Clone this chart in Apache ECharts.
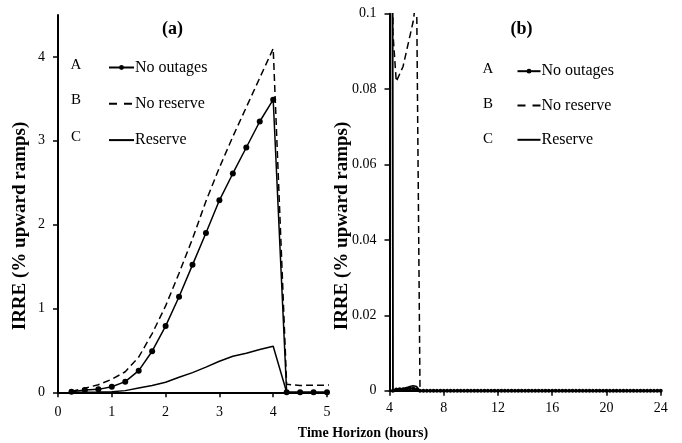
<!DOCTYPE html>
<html><head><meta charset="utf-8">
<script src="https://cdn.jsdelivr.net/npm/echarts@6/dist/echarts.min.js"></script>
<style>html,body{margin:0;padding:0;background:#fff}#c{width:682px;height:443px}</style>
</head><body><div id="c"></div>
<script>
// Time steps (hours)
const hours = [
  0.25,0.5,0.75,1,1.25,1.5,1.75,2,2.25,2.5,2.75,3,3.25,3.5,3.75,4,
  4.25,4.5,4.75,5,5.25,5.5,5.75,6,6.25,
  6.5,6.75,7,7.25,7.5,7.75,8,8.25,8.5,8.75,
  9,9.25,9.5,9.75,10,10.25,10.5,10.75,11,11.25,
  11.5,11.75,12,12.25,12.5,12.75,13,13.25,13.5,13.75,
  14,14.25,14.5,14.75,15,15.25,15.5,15.75,16,16.25,
  16.5,16.75,17,17.25,17.5,17.75,18,18.25,18.5,18.75,
  19,19.25,19.5,19.75,20,20.25,20.5,20.75,21,21.25,
  21.5,21.75,22,22.25,22.5,22.75,23,23.25,23.5,23.75,
  24
];
// A: No outages
const noOutages = [
  0.007,0.027,0.035,0.067,0.127,0.258,0.49,0.79,1.14,1.52,1.90,2.29,2.61,2.92,3.23,3.49,
  0,0.0003,0.0004,0.0004,0.0005,0.0006,0.0006,0.0004,0,
  0,0,0,0,0,0,0,0,0,0,
  0,0,0,0,0,0,0,0,0,0,
  0,0,0,0,0,0,0,0,0,0,
  0,0,0,0,0,0,0,0,0,0,
  0,0,0,0,0,0,0,0,0,0,
  0,0,0,0,0,0,0,0,0,0,
  0,0,0,0,0,0,0,0,0,0,
  0
];
// B: No reserve
const noReserve = [
  0.01,0.05,0.09,0.155,0.245,0.42,0.70,1.03,1.42,1.83,2.28,2.68,3.05,3.40,3.75,4.10,
  0.095,0.082,0.084,0.086,0.090,0.094,0.098,0.105,0,
  0,0,0,0,0,0,0,0,0,0,
  0,0,0,0,0,0,0,0,0,0,
  0,0,0,0,0,0,0,0,0,0,
  0,0,0,0,0,0,0,0,0,0,
  0,0,0,0,0,0,0,0,0,0,
  0,0,0,0,0,0,0,0,0,0,
  0,0,0,0,0,0,0,0,0,0,
  0
];
// C: Reserve
const reserve = [
  0.001,0.002,0.003,0.007,0.02,0.05,0.08,0.12,0.18,0.235,0.30,0.37,0.43,0.465,0.51,0.55,
  0.0002,0.0004,0.0005,0.0006,0.0008,0.0011,0.0013,0.0011,0,
  0,0,0,0,0,0,0,0,0,0,
  0,0,0,0,0,0,0,0,0,0,
  0,0,0,0,0,0,0,0,0,0,
  0,0,0,0,0,0,0,0,0,0,
  0,0,0,0,0,0,0,0,0,0,
  0,0,0,0,0,0,0,0,0,0,
  0,0,0,0,0,0,0,0,0,0,
  0
];
const seriesNames = ['No outages','No reserve','Reserve'];
const legendLetters = ['A','B','C'];
const yTicksA = [0,1,2,3,4];

const F = 'Liberation Serif';
const pair = arr => hours.map((h,i)=>[h, arr[i]]);

function axisCommon(){
  return {
    axisLine:{show:true,onZero:false,lineStyle:{color:'#000',width:2}},
    axisTick:{show:true,inside:false,length:5,lineStyle:{color:'#000',width:1.5}},
    axisLabel:{color:'#000',fontFamily:F,fontSize:14},
    splitLine:{show:false}
  };
}

function mkSeries(panel){
  const symA = panel===0 ? 6 : 4;
  return [
    {name:seriesNames[0],type:'line',xAxisIndex:panel,yAxisIndex:panel,data:pair(noOutages),
     symbol:'circle',symbolSize:symA,showSymbol:true,itemStyle:{color:'#000'},
     lineStyle:{color:'#000',width:1.5},clip:true,z:3},
    {name:seriesNames[1],type:'line',xAxisIndex:panel,yAxisIndex:panel,data:pair(noReserve),
     symbol:'none',itemStyle:{color:'#000'},lineStyle:{color:'#000',width:1.5,type:[7,4]},clip:true,z:2},
    {name:seriesNames[2],type:'line',xAxisIndex:panel,yAxisIndex:panel,data:pair(reserve),
     symbol:'none',itemStyle:{color:'#000'},lineStyle:{color:'#000',width:1.5},clip:true,z:2}
  ];
}

const xa = Object.assign(axisCommon(),{type:'value',gridIndex:0,min:0,max:5,interval:1});
xa.axisLabel.margin = 13;
const xb = Object.assign(axisCommon(),{type:'value',gridIndex:1,min:4,max:24,interval:4});
xb.axisLabel.margin = 11;
const ya = Object.assign(axisCommon(),{type:'value',gridIndex:0,min:0,max:4.5,interval:1});
ya.axisTick.customValues = yTicksA;
ya.axisLabel.customValues = yTicksA;
ya.axisLabel.margin = 13;
const yb = Object.assign(axisCommon(),{type:'value',gridIndex:1,min:0,max:0.1,interval:0.02});
yb.axisLabel.margin = 13;

const letterGraphics = [];
const ya0 = [65,100,137], yb0 = [69.5,104.5,139.5];
legendLetters.forEach((L,i)=>{
  letterGraphics.push({type:'text',x:76,y:ya0[i],style:{text:L,fontFamily:F,fontSize:15,fill:'#000',align:'center',verticalAlign:'middle'}});
  letterGraphics.push({type:'text',x:488,y:yb0[i],style:{text:L,fontFamily:F,fontSize:15,fill:'#000',align:'center',verticalAlign:'middle'}});
});

const legendData = [
  {name:seriesNames[0]},
  {name:seriesNames[1],itemStyle:{color:'rgba(0,0,0,0)',borderWidth:0},lineStyle:{type:[8,7]}},
  {name:seriesNames[2],itemStyle:{color:'rgba(0,0,0,0)',borderWidth:0}}
];
const legendCommon = {orient:'vertical',padding:0,itemHeight:6,selectedMode:false,
  textStyle:{fontFamily:F,fontSize:16,color:'#000',lineHeight:16,padding:[0,0,0,-4]},data:legendData};

const option = {
  animation:false,
  backgroundColor:'#fff',
  grid:[
    {left:58,top:15,width:269,height:377.3},
    {left:389.5,top:13.7,width:271.2,height:377}
  ],
  xAxis:[xa,xb],
  yAxis:[ya,yb],
  legend:[
    Object.assign({},legendCommon,{left:108,top:59.5,itemWidth:25,itemGap:20.3}),
    Object.assign({},legendCommon,{left:516.5,top:63.2,itemWidth:23,itemGap:18.3})
  ],
  graphic:[
    {type:'text',x:172.5,y:29,style:{text:'(a)',fontFamily:F,fontWeight:'bold',fontSize:18,fill:'#000',align:'center',verticalAlign:'middle'}},
    {type:'text',x:521.5,y:29,style:{text:'(b)',fontFamily:F,fontWeight:'bold',fontSize:18,fill:'#000',align:'center',verticalAlign:'middle'}},
    {type:'text',x:20,y:226,rotation:Math.PI/2,style:{text:'IRRE (% upward ramps)',fontFamily:F,fontWeight:'bold',fontSize:19,fill:'#000',align:'center',verticalAlign:'middle'}},
    {type:'text',x:342,y:226,rotation:Math.PI/2,style:{text:'IRRE (% upward ramps)',fontFamily:F,fontWeight:'bold',fontSize:19,fill:'#000',align:'center',verticalAlign:'middle'}},
    {type:'text',x:363,y:433,style:{text:'Time Horizon (hours)',fontFamily:F,fontWeight:'bold',fontSize:14,fill:'#000',align:'center',verticalAlign:'middle'}}
  ].concat(letterGraphics),
  series:mkSeries(0).concat(mkSeries(1))
};
const chart = echarts.init(document.getElementById('c'),null,{renderer:'canvas'});
chart.setOption(option);
</script></body></html>
